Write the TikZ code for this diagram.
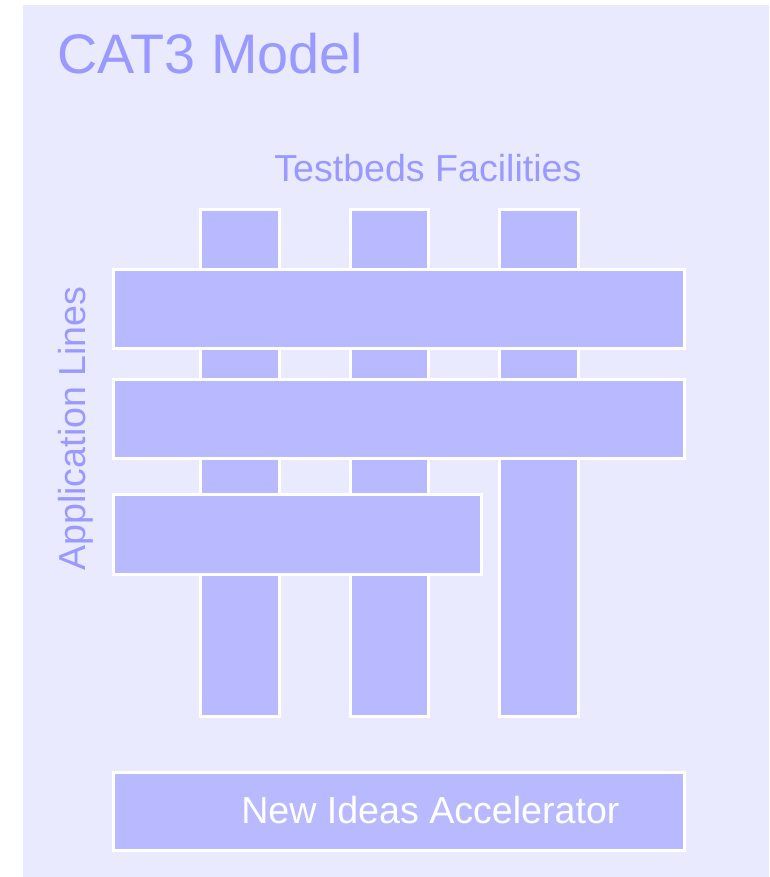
\documentclass[tikz,border=0pt]{standalone}
\usepackage{fontspec}
\setmainfont{Liberation Sans}
\usepackage{tikz}
\usetikzlibrary{positioning}
\definecolor{panelbg}{HTML}{EAEAFE}
\definecolor{barfill}{HTML}{B9B9FF}
\definecolor{labeltxt}{HTML}{9999FF}
\tikzset{
    mybar/.style={fill=barfill,draw=white,line width=2.25pt},
    mylabel/.style={text=labeltxt,inner sep=0pt,font=\fontsize{28.2}{30}\selectfont},
    every node/.style={inner sep=0pt}
}
\begin{document}
\begin{tikzpicture}[x=0.75pt,y=-0.75pt]
  \useasboundingbox (0,0) rectangle (769,877);
  \fill[panelbg] (23,5) rectangle (769,877);

  % Testbeds Facilities: vertical bars
  \foreach \x/\X in {200.5/279.5,350.5/428.5,499.5/578.5}{
    \draw[mybar] (\x,209.5) rectangle (\X,716.5);
  }

  % Application Lines: horizontal bars
  \draw[mybar] (113.5,269.5) rectangle (684.5,348.5);
  \draw[mybar] (113.5,379.5) rectangle (684.5,458.5);
  \draw[mybar] (113.5,494.5) rectangle (481.5,574.5);

  % New Ideas Accelerator
  \draw[mybar] (113.5,772.5) rectangle (684.5,850.5);

  \node[text=labeltxt,font=\fontsize{41.8}{46}\selectfont,anchor=base west]
    (title) at (57,74) {CAT3 Model};
  \node[mylabel,anchor=base west] (testbeds) at (274,182) {Testbeds Facilities};
  \node[mylabel,anchor=base west,rotate=90] (applines) at (85,571) {Application Lines};
  \node[mylabel,text=white,anchor=base west] (accel) at (241,823) {New Ideas Accelerator};
\end{tikzpicture}
\end{document}
